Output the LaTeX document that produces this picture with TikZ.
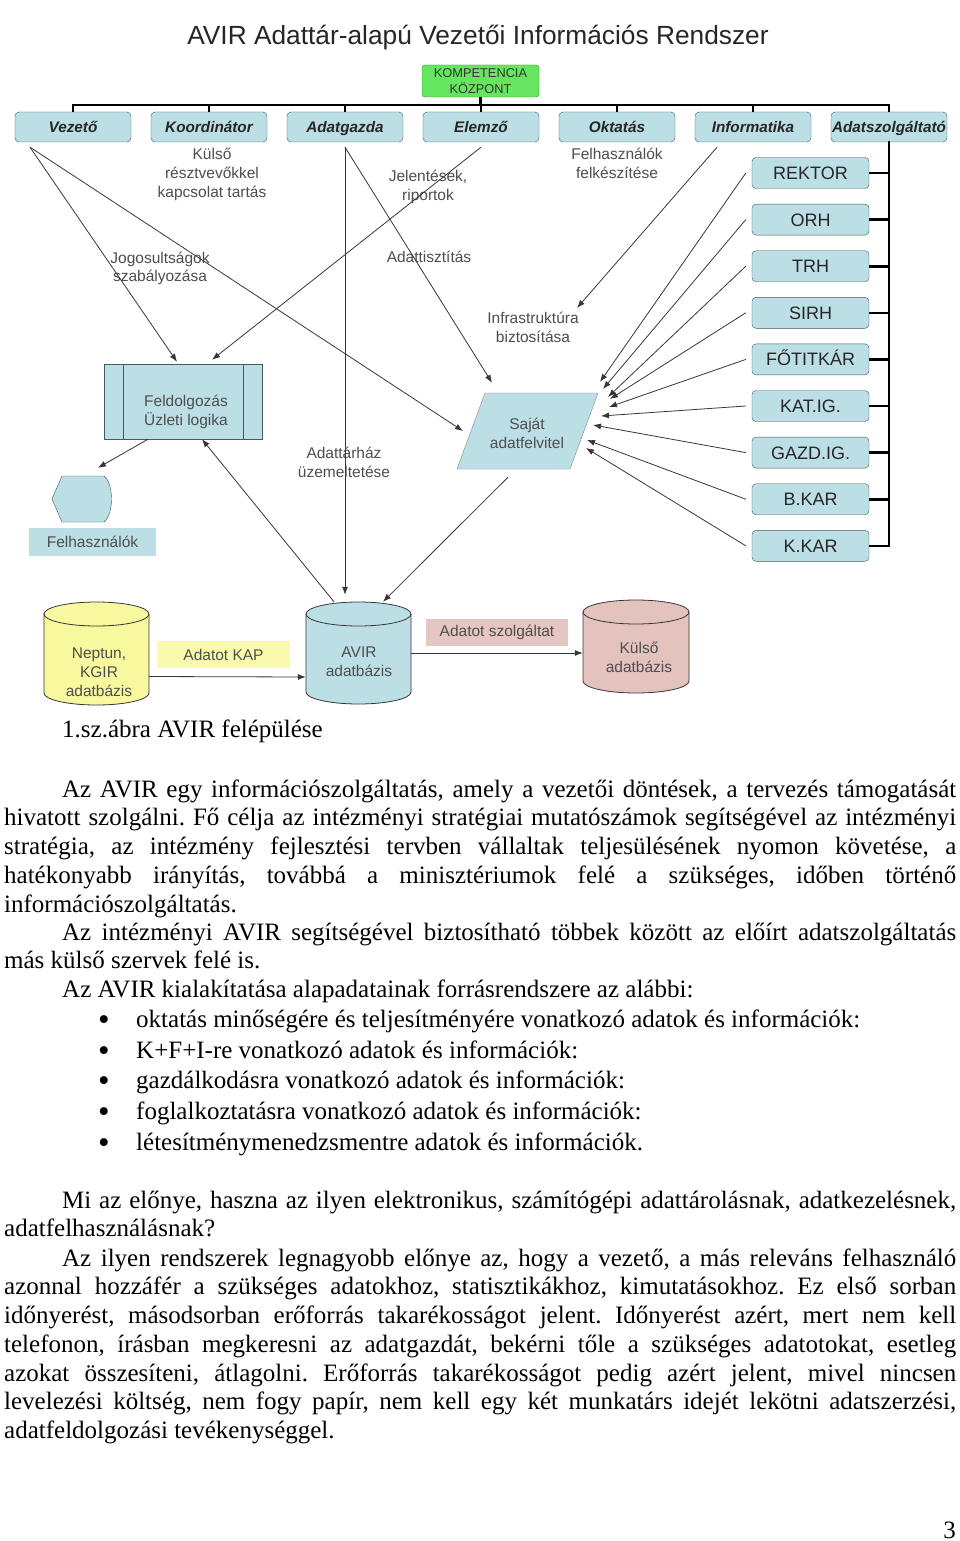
\documentclass[tikz,border=0pt]{standalone}
\usepackage{fontspec}
\setmainfont{Liberation Serif}
\setsansfont{Liberation Sans}
\usetikzlibrary{arrows.meta,positioning,calc}

\definecolor{boxblue}{RGB}{188,222,229}
\definecolor{boxline}{RGB}{70,88,96}
\definecolor{kompgreen}{RGB}{102,230,96}
\definecolor{kompline}{RGB}{40,150,40}
\definecolor{dbyellow}{RGB}{248,248,158}
\definecolor{lblyellow}{RGB}{250,250,172}
\definecolor{dbpink}{RGB}{228,194,190}
\definecolor{lblpink}{RGB}{230,198,194}
\definecolor{linegray}{RGB}{55,55,55}
\definecolor{txtgray}{RGB}{78,78,78}

\newcommand{\bodyfont}{\fontsize{25}{28.75}\selectfont}
\hyphenpenalty=10000
\tolerance=9999
\frenchspacing

\tikzset{
  rolebox/.style={draw=boxline, fill=boxblue, rounded corners=4pt, minimum width=116pt, minimum height=30pt, inner sep=0pt, text height=13pt, text depth=2pt, font=\sffamily\bfseries\itshape\fontsize{15.3}{18}\selectfont, text=black!85},
  orgbox/.style={draw=boxline, fill=boxblue, rounded corners=4pt, minimum width=117pt, minimum height=31pt, inner sep=0pt, text height=15pt, text depth=2pt, font=\sffamily\fontsize{18}{21}\selectfont, text=black!85},
  bus/.style={line width=2.6pt, draw=black},
  arr/.style={draw=linegray, line width=0.8pt, -{Latex[length=8pt,width=6pt]}},
  lbl/.style={align=center, inner sep=0pt, text=txtgray, font=\sffamily\fontsize{15.5}{19}\selectfont},
  tagbox/.style={minimum height=27pt, inner sep=0pt, text=txtgray, font=\sffamily\fontsize{15.5}{18}\selectfont},
  dbbody/.style={inner sep=0pt},
  body/.style={inner sep=0pt, anchor=base west, font=\bodyfont},
  para/.style={body, text width=952pt, align=justify},
}

\begin{document}
\begin{tikzpicture}[x=1pt, y=1pt]
  \fill[white] (0,0) rectangle (960,-1541);
  \useasboundingbox (0,0) rectangle (960,-1541);

  % title and org chart
  \node[anchor=base, font=\sffamily\fontsize{26.3}{30}\selectfont, text=black!85] (title) at (478,-45) {AVIR Adattár-alapú Vezetői Információs Rendszer};
  \node[draw=kompline, fill=kompgreen, rounded corners=3pt, minimum width=117pt, minimum height=32pt, inner sep=0pt, align=center, font=\sffamily\fontsize{12.8}{15.5}\selectfont, text=black!80] (kompetencia) at (480.5,-81) {KOMPETENCIA\\KÖZPONT};
  \coordinate (busy) at (0,-105);
  \foreach \n/\t [count=\i from 0] in {vezeto/Vezető, koord/Koordinátor, adatgazda/Adatgazda, elemzo/Elemző, oktatas/Oktatás, inform/Informatika, adatszolg/Adatszolgáltató}
    \node[rolebox] (\n) at ({73+136*\i},-127) {\t};
  \draw[bus] (kompetencia.south) -- (kompetencia.south |- busy);
  \draw[bus, line cap=rect] (vezeto.north |- busy) -- (adatszolg.north |- busy);
  \foreach \n in {vezeto, koord, adatgazda, elemzo, oktatas, inform, adatszolg}
    \draw[bus] (\n.north) -- (\n.north |- busy);

  \foreach \n/\t [count=\i from 0] in {rektor/REKTOR, orh/ORH, trh/TRH, sirh/SIRH, fotitkar/FŐTITKÁR, katig/KAT.IG., gazdig/GAZD.IG., bkar/B.KAR, kkar/K.KAR}
    \node[orgbox] (\n) at (810.5,{-173-46.6*\i}) {\t};
  \draw[bus, line cap=rect] (adatszolg.south) -- (adatszolg.south |- kkar.east);
  \foreach \n in {rektor, orh, trh, sirh, fotitkar, katig, gazdig, bkar, kkar}
    \draw[bus] (\n.east) -- (\n.east -| adatszolg.south);

  % labels
  \node[lbl] (kulsoresz) at (212,-174) {Külső\\résztvevőkkel\\kapcsolat tartás};
  \node[lbl] (jelentes) at (428,-186.5) {Jelentések,\\riportok};
  \node[lbl] (tisztitas) at (429,-257) {Adattisztítás};
  \node[lbl] (felkeszites) at (617,-163.5) {Felhasználók\\felkészítése};
  \node[lbl, font=\sffamily\fontsize{15.5}{18}\selectfont] (jogosult) at (160,-268.5) {Jogosultságok\\szabályozása};
  \node[lbl] (infra) at (533,-327.5) {Infrastruktúra\\biztosítása};
  \node[lbl] (uzemeltet) at (344,-462.5) {Adattárház\\üzemeltetése};

  % processing box
  \node[draw=boxline, fill=boxblue, minimum width=158pt, minimum height=75pt, inner sep=0pt] (feld) at (183,-401.5) {};
  \draw[boxline] ([xshift=19pt]feld.north west) -- ([xshift=19pt]feld.south west);
  \draw[boxline] ([xshift=-19pt]feld.north east) -- ([xshift=-19pt]feld.south east);
  \node[lbl] (feldlbl) at (186,-412) {Feldolgozás\\Üzleti logika};

  % users
  \filldraw[fill=boxblue, draw=boxline] (52,-499) -- (62,-476) -- (104,-476) .. controls (114,-484) and (114,-514) .. (104,-522) -- (62,-522) -- cycle;
  \node[dbbody, minimum width=60pt, minimum height=46pt] (users) at (82,-499) {};
  \node[tagbox, fill=boxblue, minimum width=127pt, minimum height=28pt] (userslbl) at (92.5,-542) {Felhasználók};

  % own data entry
  \filldraw[fill=boxblue, draw=boxline!70] (457,-469) -- (485,-393) -- (598,-393) -- (570,-469) -- cycle;
  \node[dbbody, minimum width=141pt, minimum height=76pt] (sajat) at (527.5,-431) {};
  \node[lbl] (sajatlbl) at (527,-433) {Saját\\adatfelvitel};

  % databases
  \filldraw[fill=dbyellow, draw=linegray, line width=0.8pt] (44,-614) -- (44,-693) arc[start angle=180, end angle=360, x radius=52.5, y radius=12] -- (149,-614) arc[start angle=0, end angle=180, x radius=52.5, y radius=12] -- cycle;
  \draw[linegray, line width=0.8pt] (44,-614) arc[start angle=180, end angle=360, x radius=52.5, y radius=12];
  \node[dbbody, minimum width=105pt, minimum height=103pt] (neptun) at (96.5,-653.5) {};
  \node[lbl] (neptunlbl) at (99,-672) {Neptun,\\KGIR\\adatbázis};

  \filldraw[fill=boxblue, draw=linegray, line width=0.8pt] (306,-614) -- (306,-692) arc[start angle=180, end angle=360, x radius=52.5, y radius=12] -- (411,-614) arc[start angle=0, end angle=180, x radius=52.5, y radius=12] -- cycle;
  \draw[linegray, line width=0.8pt] (306,-614) arc[start angle=180, end angle=360, x radius=52.5, y radius=12];
  \node[dbbody, minimum width=105pt, minimum height=102pt] (avir) at (358.5,-653) {};
  \node[lbl] (avirlbl) at (359,-662) {AVIR\\adatbázis};

  \filldraw[fill=dbpink, draw=linegray, line width=0.8pt] (583,-612) -- (583,-681) arc[start angle=180, end angle=360, x radius=53, y radius=12] -- (689,-612) arc[start angle=0, end angle=180, x radius=53, y radius=12] -- cycle;
  \draw[linegray, line width=0.8pt] (583,-612) arc[start angle=180, end angle=360, x radius=53, y radius=12];
  \node[dbbody, minimum width=106pt, minimum height=93pt] (kulso) at (636,-646.5) {};
  \node[lbl] (kulsolbl) at (639,-657.5) {Külső\\adatbázis};

  \node[tagbox, fill=lblyellow, minimum width=133pt] (kap) at (223.5,-654.5) {Adatot KAP};
  \node[tagbox, fill=lblpink, minimum width=142pt] (szolg) at (497,-632.5) {Adatot szolgáltat};

  % connectors
  \coordinate (infratip) at (577,-308);
  \coordinate (t1) at (600,-382);
  \coordinate (t2) at (603,-389);
  \coordinate (t3) at (608,-397);
  \coordinate (t4) at (610,-399);
  \coordinate (t5) at (609,-407);
  \coordinate (t6) at (601,-416);
  \coordinate (t7) at (593,-425);
  \coordinate (t8) at (587,-440);
  \coordinate (t9) at (586,-448);
  \draw[arr] ([shift={(-43pt,-5pt)}]vezeto.south) -- ([shift={(-6pt,2pt)}]feld.north);
  \draw[arr] ([shift={(-43pt,-5pt)}]vezeto.south) -- ([xshift=-64.5pt]sajat.center);
  \draw[arr] ([yshift=-5pt]elemzo.south) -- ([shift={(29pt,4pt)}]feld.north);
  \draw[arr] ([yshift=-5pt]adatgazda.south) -- ([shift={(-35.5pt,10pt)}]sajat.north);
  \draw[arr] ([yshift=-5pt]adatgazda.south) -- ($(adatgazda.south |- avir.north)+(0,7)$);
  \draw[arr] ([shift={(-36pt,-5pt)}]inform.south) -- (infratip);
  \foreach \n [count=\i] in {rektor, orh, trh, sirh, fotitkar, katig, gazdig, bkar, kkar}
    \draw[arr] ([xshift=-6pt]\n.west) -- (t\i);
  \draw[arr] ([shift={(-19.5pt,-8pt)}]sajat.south) -- ([xshift=24.5pt]avir.north);
  \draw[arr] ([xshift=-24.5pt]avir.north) -- ([xshift=19pt]feld.south);
  \draw[arr] ([xshift=-35pt]feld.south) -- ([shift={(16pt,8pt)}]users.north);
  \draw[arr] ([yshift=-23pt]neptun.east) -- ([yshift=-24pt]avir.west);
  \draw[arr] (avir.east) -- (avir.east -| kulso.west);

  % page text
  \node[body] (caption) at (62,-737) {1.sz.ábra AVIR felépülése};
  \node[para] (par1) at (4,-797) {\hspace*{58pt}Az AVIR egy információszolgáltatás, amely a vezetői döntések, a tervezés támogatását\linebreak
    hivatott szolgálni. Fő célja az intézményi stratégiai mutatószámok segítségével az intézményi\linebreak
    stratégia, az intézmény fejlesztési tervben vállaltak teljesülésének nyomon követése, a\linebreak
    hatékonyabb irányítás, továbbá a minisztériumok felé a szükséges, időben történő\linebreak
    információszolgáltatás.};
  \node[para] (par2) at (4,-940) {\hspace*{58pt}Az intézményi AVIR segítségével biztosítható többek között az előírt adatszolgáltatás\linebreak
    más külső szervek felé is.};
  \node[body] (par3) at (62,-997) {Az AVIR kialakítatása alapadatainak forrásrendszere az alábbi:};
  \foreach \y/\t [count=\i] in {1027/oktatás minőségére és teljesítményére vonatkozó adatok és információk:,
      1058/K+F+I-re vonatkozó adatok és információk:,
      1088/gazdálkodásra vonatkozó adatok és információk:,
      1119/foglalkoztatásra vonatkozó adatok és információk:,
      1150/létesítménymenedzsmentre adatok és információk.} {
    \node[body, anchor=base, font=\fontsize{33}{36}\selectfont] (dot\i) at (104,{-\y-3}) {\textbullet};
    \node[body] (item\i) at (136,-\y) {\t};
  }
  \node[para] (par4) at (4,-1208) {\hspace*{58pt}Mi az előnye, haszna az ilyen elektronikus, számítógépi adattárolásnak, adatkezelésnek,\linebreak
    adatfelhasználásnak?};
  \node[para] (par5) at (4,-1266) {\hspace*{58pt}Az ilyen rendszerek legnagyobb előnye az, hogy a vezető, a más releváns felhasználó\linebreak
    azonnal hozzáfér a szükséges adatokhoz, statisztikákhoz, kimutatásokhoz. Ez első sorban\linebreak
    időnyerést, másodsorban erőforrás takarékosságot jelent. Időnyerést azért, mert nem kell\linebreak
    telefonon, írásban megkeresni az adatgazdát, bekérni tőle a szükséges adatotokat, esetleg\linebreak
    azokat összesíteni, átlagolni. Erőforrás takarékosságot pedig azért jelent, mivel nincsen\linebreak
    levelezési költség, nem fogy papír, nem kell egy két munkatárs idejét lekötni adatszerzési,\linebreak
    adatfeldolgozási tevékenységgel.};
  \node[body, anchor=base east] (pagenum) at (956,-1538) {3};
\end{tikzpicture}
\end{document}
